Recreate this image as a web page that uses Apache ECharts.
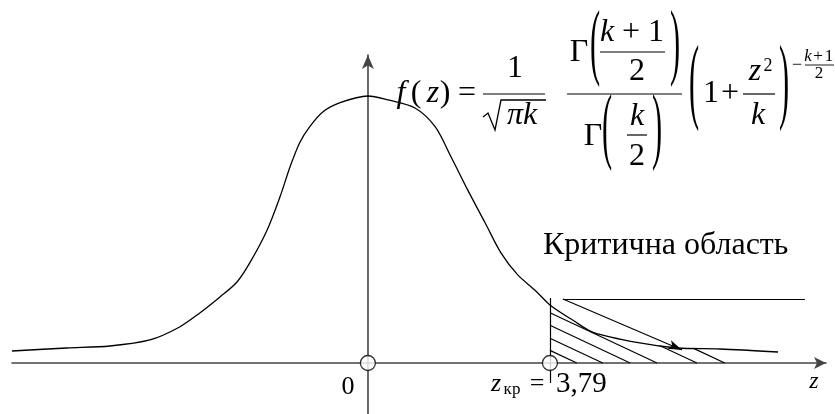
<!DOCTYPE html>
<html>
<head>
<meta charset="utf-8">
<script src="https://cdn.jsdelivr.net/npm/echarts@6/dist/echarts.min.js"></script>
<style>
  html, body { margin: 0; padding: 0; background: #fff; }
  #chart { width: 835px; height: 414px; }
</style>
</head>
<body>
<div id="chart"></div>
<script>
// Density curve f(z), sampled points
const curveZ = [-7.41, -6.27, -5.37, -4.54, -3.92, -3.50, -3.08, -2.73, -2.46, -2.10, -1.83, -1.62, -1.42, -1.21, -0.94, -0.58, 0,
                0.42, 0.98, 1.40, 1.73, 2.08, 2.44, 2.77, 3.12, 3.48, 3.79, 4.27, 4.69, 5.66, 6.44, 7.33, 8.54];
const curveF = [0.018, 0.0225, 0.0255, 0.0345, 0.054, 0.075, 0.099, 0.121, 0.150, 0.199, 0.249, 0.294, 0.330, 0.354, 0.376, 0.390, 0.400,
                0.394, 0.382, 0.354, 0.309, 0.259, 0.210, 0.165, 0.132, 0.109, 0.087, 0.064, 0.046, 0.030, 0.0225, 0.021, 0.0165];

// Marked points on the z axis: origin and the critical value
const markedZ = [0, 3.79];
const zCrit = 3.79;
const zCritText = '3,79';

// Critical-region hatching: z where each hatch stroke meets the axis, and the common slope
const hatchEnds = [4.35, 4.89, 5.46, 6.02, 6.85, 7.43];
const hatchSlope = 0.0338;

// Boundary line at z_crit (bottom and top in f units)
const critLine = [-0.030, 0.0974];

// Leader from the caption to the hatched region
const leaderShelf = [[4.06, 0.0959], [9.10, 0.0959]];
const leaderArrow = [[4.06, 0.0959], [6.54, 0.0195]];

const captionText = 'Критична область';

function curveAt(z) {
  for (let i = 0; i < curveZ.length - 1; i++) {
    if (z >= curveZ[i] && z <= curveZ[i + 1]) {
      const t = (z - curveZ[i]) / (curveZ[i + 1] - curveZ[i]);
      return curveF[i] + t * (curveF[i + 1] - curveF[i]);
    }
  }
  return curveF[curveF.length - 1];
}

// A hatch stroke starts on the boundary line or on the curve, whichever it meets first
function hatchStart(ze) {
  const L = z => hatchSlope * (ze - z);
  if (L(zCrit) <= curveAt(zCrit)) return [zCrit, L(zCrit)];
  let a = zCrit, b = ze;
  for (let k = 0; k < 50; k++) {
    const m = (a + b) / 2;
    if (L(m) - curveAt(m) > 0) a = m; else b = m;
  }
  return [b, L(b)];
}

const hatchLines = hatchEnds.map(ze => [{ coord: hatchStart(ze) }, { coord: [ze, 0] }]);

const curveData = curveZ.map((z, i) => [z, curveF[i]]);

const INK = '#000';
const AXIS = '#444';
const FONT_TAIL = 'px "Liberation Serif", "DejaVu Serif", serif';

// Formula pieces (text), drawn as graphic elements
function tx(t, x, y, size, italic, extra) {
  return Object.assign({
    type: 'text', x: x, y: y, z: 100,
    style: {
      text: t, fill: INK,
      font: (italic ? 'italic ' : '') + size + FONT_TAIL,
      align: 'center', verticalAlign: 'middle'
    }
  }, extra || {});
}
function bar(x1, x2, y, w) {
  return { type: 'line', z: 100, shape: { x1: x1, y1: y, x2: x2, y2: y }, style: { stroke: INK, lineWidth: w || 1.2 } };
}
function paren(t, x, yc, k) {
  return tx(t, x, yc - 0.0825 * 32 * k, 32, false, { scaleY: k, scaleX: 0.95 });
}

const S = 32;
const formula = [
  tx('f', 401, 94, S, true),
  tx('(', 416, 94, S),
  tx('z', 433, 94, S, true),
  tx(')', 445, 94, S),
  tx('=', 467, 94, S),
  tx('1', 515, 69, S),
  bar(483, 545, 94),
  { type: 'polyline', z: 100, shape: { points: [[483, 117], [488, 113], [495, 130], [501, 100], [546, 100]] },
    style: { stroke: INK, fill: null, lineWidth: 1.3 } },
  tx('πk', 522, 116, S, true),
  bar(567, 682, 94),
  tx('Γ', 579, 53, S),
  paren('(', 595, 54, 2.65),
  tx('k', 607, 33, S, true),
  tx('+', 631, 33, S),
  tx('1', 656, 33, S),
  bar(600, 665, 52),
  tx('2', 637, 72, S),
  paren(')', 675, 54, 2.65),
  tx('Γ', 593, 137, S),
  paren('(', 607, 138, 2.65),
  tx('k', 637, 117, S, true),
  bar(627, 647, 135),
  tx('2', 637, 157, S),
  paren(')', 657, 138, 2.65),
  paren('(', 694, 94, 3.0),
  tx('1', 711, 94, S),
  tx('+', 730, 94, S),
  tx('z', 755, 72, S, true),
  tx('2', 768, 66, 18),
  bar(743, 775, 94),
  tx('k', 758, 116, S, true),
  paren(')', 784, 94, 3.0),
  tx('−', 797, 65, 18),
  tx('k', 808, 57, 17, true),
  tx('+', 818, 57, 17),
  tx('1', 829, 57, 17),
  bar(805, 834, 65, 0.9),
  tx('2', 819, 74, 17)
];

const labels = [
  { type: 'text', x: 543, y: 246, z: 100,
    style: { text: captionText, fill: INK, font: '32' + FONT_TAIL, align: 'left', verticalAlign: 'middle' } },
  tx('0', 348, 387, 26),
  tx('z', 496, 384, 26, true),
  tx('кр', 512, 390, 17),
  tx('=', 537, 384, 26),
  { type: 'text', x: 556, y: 384, z: 100,
    style: { text: zCritText, fill: INK, font: '29' + FONT_TAIL, align: 'left', verticalAlign: 'middle' } },
  tx('z', 814, 382, 24, true)
];

const chart = echarts.init(document.getElementById('chart'), null, { renderer: 'canvas' });
chart.setOption({
  animation: false,
  backgroundColor: '#fff',
  grid: { left: 12, right: 9, top: 55, bottom: 0, containLabel: false, outerBoundsMode: 'none' },
  xAxis: {
    type: 'value', min: -7.41, max: 9.538,
    axisLine: { onZero: true, symbol: ['none', 'arrow'], symbolSize: [9, 12], lineStyle: { color: AXIS, width: 1.6 } },
    axisTick: { show: false }, axisLabel: { show: false }, splitLine: { show: false }
  },
  yAxis: {
    type: 'value', min: -0.0764, max: 0.4614,
    axisLine: { onZero: true, symbol: ['none', 'arrow'], symbolSize: [9, 14], lineStyle: { color: AXIS, width: 1.6 } },
    axisTick: { show: false }, axisLabel: { show: false }, splitLine: { show: false }
  },
  series: [
    {
      type: 'line', data: curveData, smooth: 0.3, showSymbol: false, silent: true,
      lineStyle: { color: INK, width: 1.3 }, z: 3
    },
    {
      type: 'line', data: [[zCrit, 0]], showSymbol: false, silent: true, lineStyle: { width: 0 }, z: 4,
      markLine: {
        silent: true, symbol: ['none', 'none'], label: { show: false }, emphasis: { disabled: true },
        lineStyle: { color: INK, width: 1.2, type: 'solid' },
        data: hatchLines.concat([
          [{ coord: [zCrit, critLine[0]] }, { coord: [zCrit, critLine[1]] }],
          [{ coord: leaderShelf[0] }, { coord: leaderShelf[1] }],
          [{ coord: leaderArrow[0] }, { coord: leaderArrow[1], symbol: 'arrow', symbolSize: [7, 14] }]
        ])
      }
    },
    {
      type: 'scatter', data: markedZ.map(z => [z, 0]), symbol: 'circle', symbolSize: 15, silent: true, z: 10,
      itemStyle: { color: '#fff', borderColor: '#000', borderWidth: 1.3 }
    }
  ],
  graphic: formula.concat(labels)
});
</script>
</body>
</html>
